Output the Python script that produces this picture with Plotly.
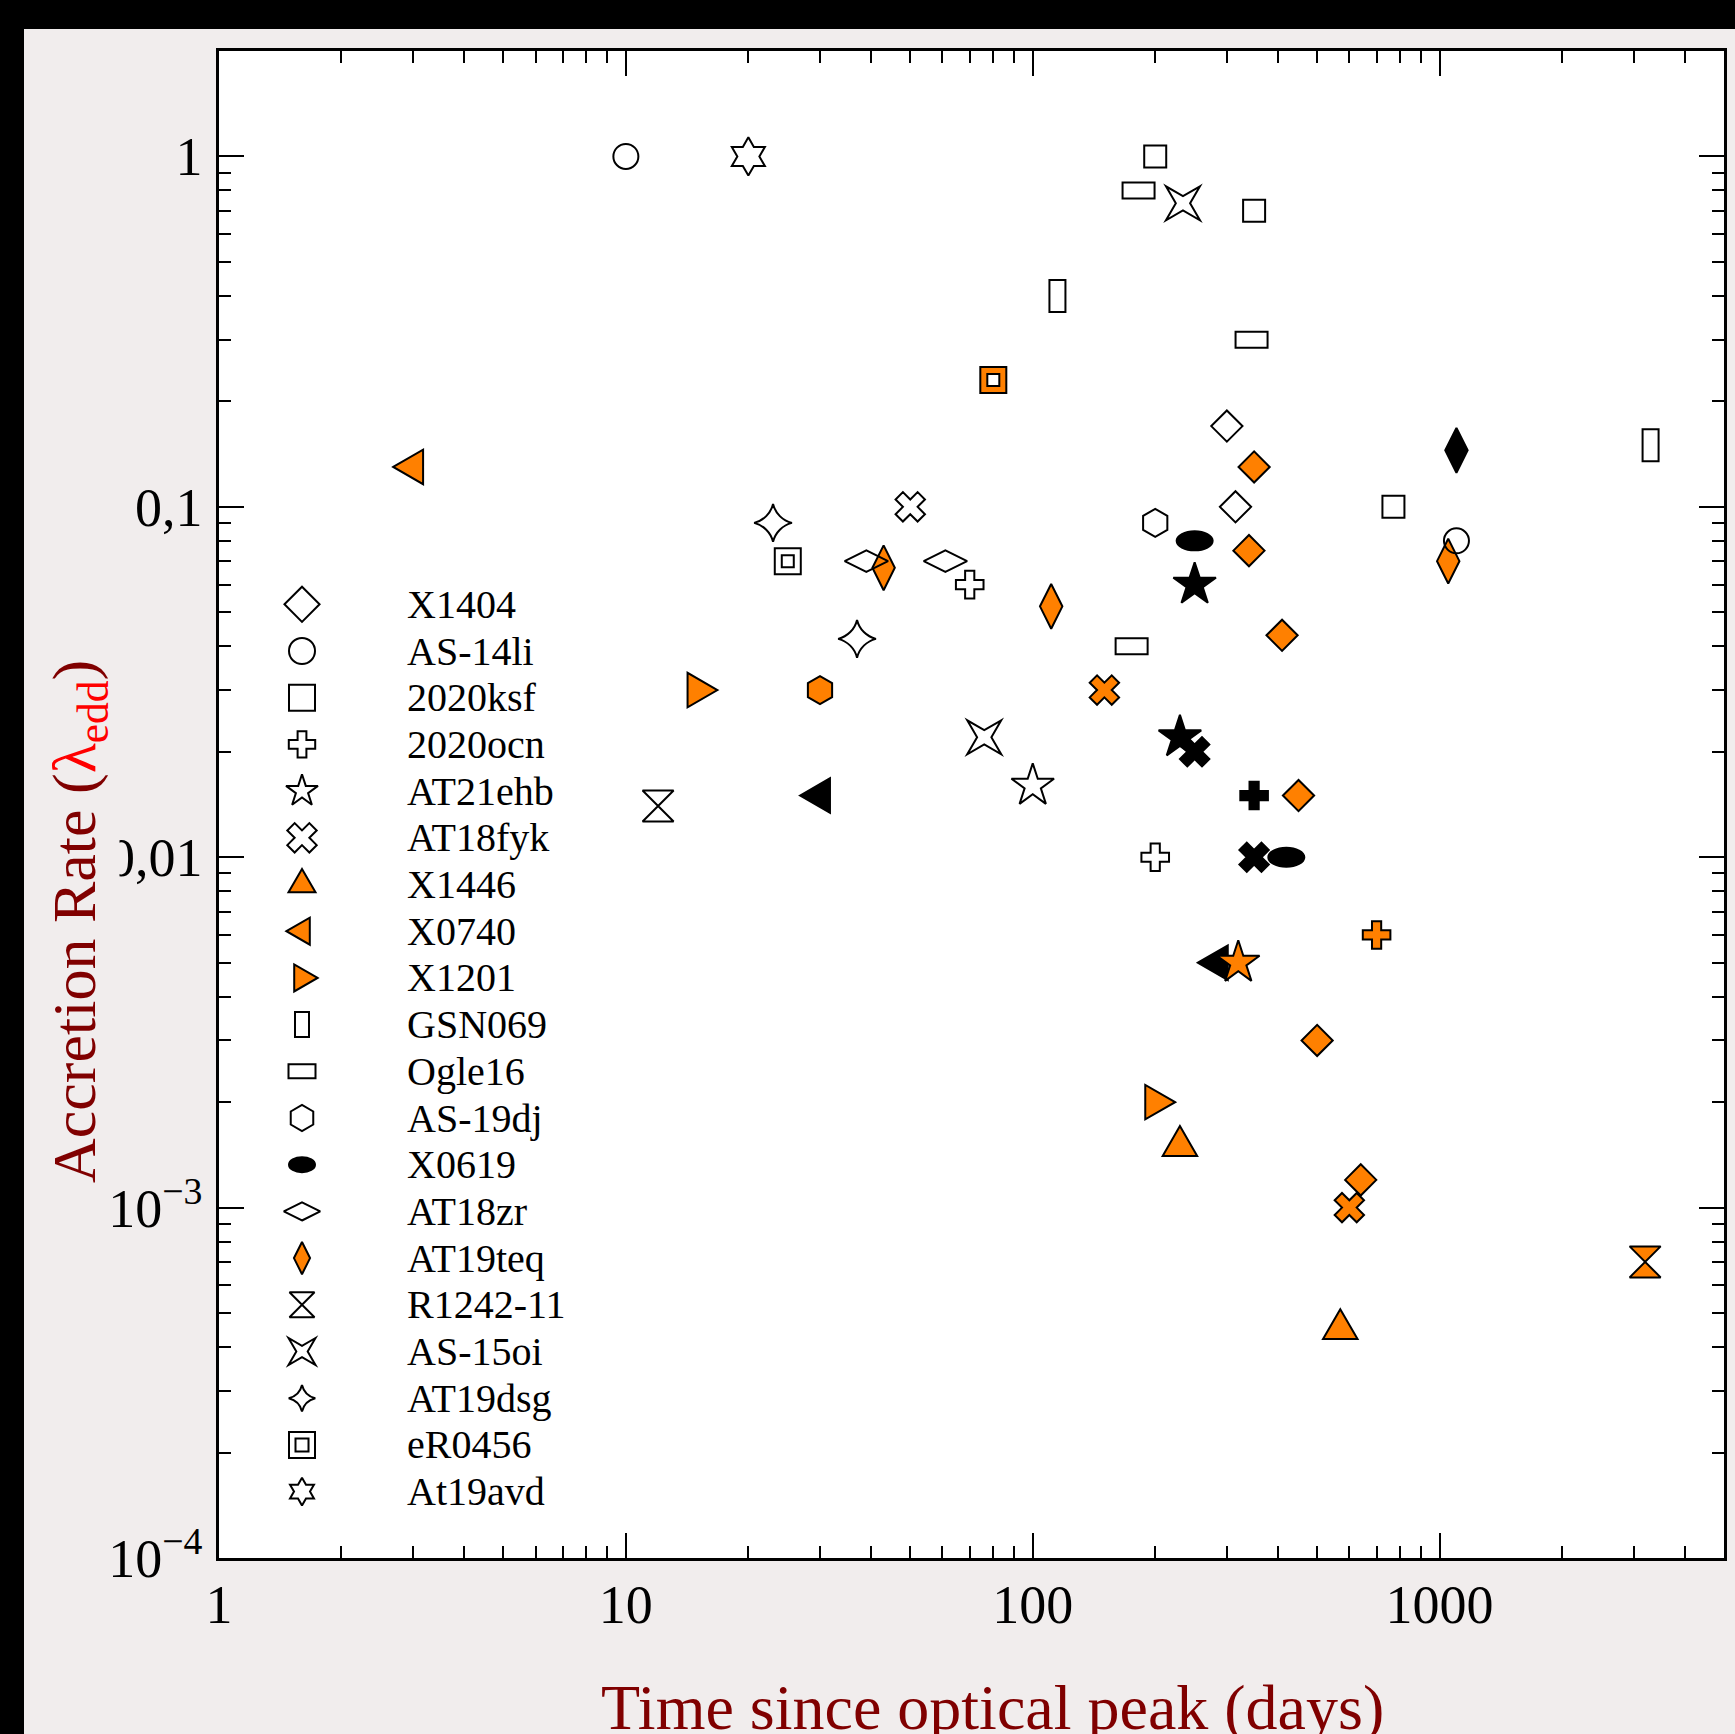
import math
import plotly.graph_objects as go

# ------------------------------------------------------------------ data
# time since optical peak (days), Eddington ratio, marker fill class
# fill class: "w" = open, "o" = orange, "k" = black
X1404_days = [300, 315, 350, 340, 410, 450, 500, 640]
X1404_rate = [0.17, 0.10, 0.13, 0.075, 0.043, 0.015, 0.003, 0.0012]
X1404_fill = ["w", "w", "o", "o", "o", "o", "o", "o"]

AS14li_days = [10, 1100]
AS14li_rate = [1.0, 0.08]
AS14li_fill = ["w", "w"]

ksf_days = [200, 350, 770]
ksf_rate = [1.0, 0.70, 0.10]
ksf_fill = ["w", "w", "w"]

ocn_days = [70, 200, 350, 700]
ocn_rate = [0.06, 0.01, 0.015, 0.006]
ocn_fill = ["w", "w", "k", "o"]

ehb_days = [100, 250, 230, 320]
ehb_rate = [0.016, 0.06, 0.022, 0.005]
ehb_fill = ["w", "k", "k", "o"]

fyk_days = [50, 150, 250, 350, 600]
fyk_rate = [0.10, 0.03, 0.02, 0.01, 0.001]
fyk_fill = ["w", "o", "k", "k", "o"]

X1446_days = [230, 570]
X1446_rate = [0.0015, 0.00045]
X1446_fill = ["o", "o"]

X0740_days = [3, 30, 285]
X0740_rate = [0.13, 0.015, 0.005]
X0740_fill = ["o", "k", "k"]

X1201_days = [15, 200]
X1201_rate = [0.03, 0.002]
X1201_fill = ["o", "o"]

GSN069_days = [115, 3300]
GSN069_rate = [0.40, 0.15]
GSN069_fill = ["w", "w"]

Ogle16_days = [182, 345, 175]
Ogle16_rate = [0.80, 0.30, 0.04]
Ogle16_fill = ["w", "w", "w"]

AS19dj_days = [200, 30]
AS19dj_rate = [0.09, 0.03]
AS19dj_fill = ["w", "o"]

X0619_days = [250, 420]
X0619_rate = [0.08, 0.01]
X0619_fill = ["k", "k"]

zr_days = [39, 61]
zr_rate = [0.07, 0.07]
zr_fill = ["w", "w"]

teq_days = [43, 111, 1100, 1050]
teq_rate = [0.067, 0.052, 0.145, 0.07]
teq_fill = ["o", "o", "k", "o"]

R1242_days = [12, 3200]
R1242_rate = [0.014, 0.0007]
R1242_fill = ["w", "o"]

AS15oi_days = [234, 76]
AS15oi_rate = [0.735, 0.022]
AS15oi_fill = ["w", "w"]

dsg_days = [23, 37]
dsg_rate = [0.09, 0.042]
dsg_fill = ["w", "w"]

eR0456_days = [80, 25]
eR0456_rate = [0.23, 0.07]
eR0456_fill = ["o", "w"]

avd_days = [20]
avd_rate = [1.0]
avd_fill = ["w"]

SOURCE_NAMES = ["X1404", "AS-14li", "2020ksf", "2020ocn", "AT21ehb", "AT18fyk",
                "X1446", "X0740", "X1201", "GSN069", "Ogle16", "AS-19dj",
                "X0619", "AT18zr", "AT19teq", "R1242-11", "AS-15oi", "AT19dsg",
                "eR0456", "At19avd"]
LEGEND_FILL = ["w", "w", "w", "w", "w", "w", "o", "o", "o", "w", "w", "w",
               "k", "w", "o", "w", "w", "w", "w", "w"]

X_TICK_VALS = [1, 10, 100, 1000]
X_TICK_TEXT = ["1", "10", "100", "1000"]
Y_TICK_VALS = [1, 0.1, 0.01, 0.001, 0.0001]
Y_TICK_TEXT = ["1", "0,1", "0,01", "10<sup>\u22123</sup>", "10<sup>\u22124</sup>"]

X_TITLE = "Time since optical peak (days)"
Y_TITLE = "Accretion Rate (<span style='color:#ff0000'>\u03bb<sub>edd</sub></span>)"

SERIES = [
    (X1404_days, X1404_rate, X1404_fill),
    (AS14li_days, AS14li_rate, AS14li_fill),
    (ksf_days, ksf_rate, ksf_fill),
    (ocn_days, ocn_rate, ocn_fill),
    (ehb_days, ehb_rate, ehb_fill),
    (fyk_days, fyk_rate, fyk_fill),
    (X1446_days, X1446_rate, X1446_fill),
    (X0740_days, X0740_rate, X0740_fill),
    (X1201_days, X1201_rate, X1201_fill),
    (GSN069_days, GSN069_rate, GSN069_fill),
    (Ogle16_days, Ogle16_rate, Ogle16_fill),
    (AS19dj_days, AS19dj_rate, AS19dj_fill),
    (X0619_days, X0619_rate, X0619_fill),
    (zr_days, zr_rate, zr_fill),
    (teq_days, teq_rate, teq_fill),
    (R1242_days, R1242_rate, R1242_fill),
    (AS15oi_days, AS15oi_rate, AS15oi_fill),
    (dsg_days, dsg_rate, dsg_fill),
    (eR0456_days, eR0456_rate, eR0456_fill),
    (avd_days, avd_rate, avd_fill),
]

# ------------------------------------------------------------------ styles
# glyph kind, data size, legend size
GLYPH = {
    "X1404": ("diamond", 24, 27),
    "AS-14li": ("circle", 25, 26),
    "2020ksf": ("square", 22, 26),
    "2020ocn": ("cross", 23, 22),
    "AT21ehb": ("star", 32, 24),
    "AT18fyk": ("x", 26, 26),
    "X1446": ("tri-up", 34.5, 27),
    "X0740": ("tri-left", 34.5, 27),
    "X1201": ("tri-right", 34.5, 27),
    "GSN069": ("rect", (16, 32), (14, 25)),
    "Ogle16": ("rect", (32, 16), (27, 14)),
    "AS-19dj": ("hexagon", 28, 26),
    "X0619": ("ellipse", (36, 19), (26, 15)),
    "AT18zr": ("diamond-wide", 31, 26),
    "AT19teq": ("diamond-tall", 32, 23),
    "R1242-11": ("hourglass", 31, 25),
    "AS-15oi": ("star4x", 34, 27),
    "AT19dsg": ("star-diamond", 27, 19),
    "eR0456": ("dsquare", 26, 26),
    "At19avd": ("hexagram", 29, 21),
}
FILL = {"w": "rgba(0,0,0,0)", "o": "#ff8000", "k": "#000000"}
SERIF = "Liberation Serif, Times New Roman, serif"
LW = 2

W, H = 1735, 1734
ML, MR, MT, MB = 219, 11, 51, 176
PW = W - ML - MR
PH = H - MT - MB


def px_x(px):
    return (px - ML) / PW


def px_y(py):
    return (H - MB - py) / PH


def poly(pts):
    return "M" + " L".join(f"{x:.2f},{y:.2f}" for x, y in pts) + " Z"


def glyph_path(kind, size):
    """SVG path in pixels (y up) centred on the anchor."""
    if kind.startswith("tri"):
        h = size * math.sqrt(3) / 2
        a, b, c = 2 * h / 3, h / 3, size / 2
        if kind == "tri-up":
            return poly([(0, a), (c, -b), (-c, -b)])
        if kind == "tri-left":
            return poly([(-a, 0), (b, c), (b, -c)])
        return poly([(a, 0), (-b, c), (-b, -c)])
    if kind == "rect":
        w, h = size[0] / 2, size[1] / 2
        return poly([(-w, -h), (w, -h), (w, h), (-w, h)])
    if kind == "ellipse":
        rx, ry = size[0] / 2, size[1] / 2
        k = 0.5523
        return (f"M{rx:.2f},0 C{rx:.2f},{k*ry:.2f} {k*rx:.2f},{ry:.2f} 0,{ry:.2f} "
                f"C{-k*rx:.2f},{ry:.2f} {-rx:.2f},{k*ry:.2f} {-rx:.2f},0 "
                f"C{-rx:.2f},{-k*ry:.2f} {-k*rx:.2f},{-ry:.2f} 0,{-ry:.2f} "
                f"C{k*rx:.2f},{-ry:.2f} {rx:.2f},{-k*ry:.2f} {rx:.2f},0 Z")
    if kind == "star4x":
        a = size / 2
        ri = 0.42 * a
        return poly([(a, a), (0, ri), (-a, a), (-ri, 0), (-a, -a), (0, -ri), (a, -a), (ri, 0)])
    raise ValueError(kind)


def custom_shape(kind, size, fill, xref, yref, xa, ya, layer):
    return dict(type="path", path=glyph_path(kind, size),
                xref=xref, yref=yref, xsizemode="pixel", ysizemode="pixel",
                xanchor=xa, yanchor=ya, layer=layer,
                line=dict(color="black", width=LW), fillcolor=FILL[fill])


CUSTOM = ("tri-up", "tri-left", "tri-right", "rect", "ellipse", "star4x")

fig = go.Figure()
shapes = []

# page frame (black bars top / left)
shapes.append(dict(type="rect", xref="paper", yref="paper", layer="below",
                   x0=px_x(0), x1=px_x(24), y0=px_y(H), y1=px_y(0),
                   fillcolor="black", line=dict(width=0)))
shapes.append(dict(type="rect", xref="paper", yref="paper", layer="below",
                   x0=px_x(0), x1=px_x(W), y0=px_y(29), y1=px_y(0),
                   fillcolor="black", line=dict(width=0)))

# ------------------------------------------------------------------ data marks
for cls in ["k", "o", "w"]:
    for name, (xs, ys, fs) in zip(SOURCE_NAMES, SERIES):
        kind, dsize, _ = GLYPH[name]
        px = [x for x, f in zip(xs, fs) if f == cls]
        py = [y for y, f in zip(ys, fs) if f == cls]
        if not px:
            continue
        if kind in CUSTOM:
            fig.add_trace(go.Scatter(
                x=px, y=py, mode="markers", name=name, showlegend=False,
                marker=dict(size=24, opacity=0),
                hovertemplate=name + ": %{x} d, %{y}<extra></extra>"))
            for x, y in zip(px, py):
                shapes.append(custom_shape(kind, dsize, cls, "x", "y", x, y, "below"))
            continue
        sym = "square" if kind == "dsquare" else kind
        fig.add_trace(go.Scatter(
            x=px, y=py, mode="markers", name=name, showlegend=False,
            marker=dict(symbol=sym, size=dsize, color=FILL[cls],
                        line=dict(color="black", width=LW)),
            hovertemplate=name + ": %{x} d, %{y}<extra></extra>"))
        if kind == "dsquare":
            fig.add_trace(go.Scatter(
                x=px, y=py, mode="markers", name=name, showlegend=False,
                hoverinfo="skip",
                marker=dict(symbol="square", size=12, color="white",
                            line=dict(color="black", width=LW))))

# ------------------------------------------------------------------ legend (manual)
LEG_SYM_X, LEG_TXT_X, LEG_Y0, LEG_DY = 302, 405, 604.3, 46.7
annotations = []
for i, name in enumerate(SOURCE_NAMES):
    kind, _, lsize = GLYPH[name]
    cls = LEGEND_FILL[i]
    lx, ly = px_x(LEG_SYM_X), px_y(LEG_Y0 + i * LEG_DY)
    if kind in CUSTOM:
        shapes.append(custom_shape(kind, lsize, cls, "paper", "paper", lx, ly, "above"))
    else:
        sym = "square" if kind == "dsquare" else kind
        fig.add_trace(go.Scatter(
            x=[lx], y=[ly], xaxis="x2", yaxis="y2", mode="markers",
            showlegend=False, hoverinfo="skip",
            marker=dict(symbol=sym, size=lsize, color=FILL[cls],
                        line=dict(color="black", width=LW))))
        if kind == "dsquare":
            fig.add_trace(go.Scatter(
                x=[lx], y=[ly], xaxis="x2", yaxis="y2", mode="markers",
                showlegend=False, hoverinfo="skip",
                marker=dict(symbol="square", size=13, color="white",
                            line=dict(color="black", width=LW))))
    annotations.append(dict(
        xref="paper", yref="paper", x=px_x(LEG_TXT_X), y=ly,
        xanchor="left", yanchor="middle", showarrow=False, text=name,
        font=dict(family=SERIF, size=40, color="black")))

# axis titles
annotations.append(dict(
    xref="paper", yref="paper", x=px_x(993), y=px_y(1707),
    xanchor="center", yanchor="middle", showarrow=False, text=X_TITLE,
    font=dict(family=SERIF, size=64, color="#800000")))
annotations.append(dict(
    xref="paper", yref="paper", x=px_x(79), y=px_y(922),
    xanchor="center", yanchor="middle", showarrow=False, text=Y_TITLE,
    textangle=-90, bgcolor="#f1eded", borderpad=2,
    font=dict(family=SERIF, size=62, color="#800000")))

x_minor = [m * 10 ** e for e in range(0, 4) for m in range(2, 10) if m * 10 ** e < 5000]
y_minor = [m * 10.0 ** e for e in range(-4, 1) for m in range(2, 10) if m * 10.0 ** e < 2.01]

axis_common = dict(
    type="log", showline=True, linecolor="black", linewidth=2.5, mirror="allticks",
    ticks="inside", ticklen=25, tickwidth=1.6, tickcolor="black",
    showgrid=False, zeroline=False, tickmode="array",
    tickfont=dict(family=SERIF, size=54, color="black"),
)

fig.update_layout(
    width=W, height=H,
    margin=dict(l=ML, r=MR, t=MT, b=MB, pad=0, autoexpand=False),
    paper_bgcolor="#f1eded", plot_bgcolor="white",
    showlegend=False,
    xaxis=dict(range=[0, math.log10(5000)], tickvals=X_TICK_VALS, ticktext=X_TICK_TEXT,
               ticklabelstandoff=-3,
               minor=dict(tickmode="array", tickvals=x_minor, ticks="inside", ticklen=12,
                          tickwidth=1.6, tickcolor="black", showgrid=False),
               **axis_common),
    yaxis=dict(range=[-4, math.log10(2)], tickvals=Y_TICK_VALS, ticktext=Y_TICK_TEXT,
               ticklabelstandoff=3,
               minor=dict(tickmode="array", tickvals=y_minor, ticks="inside", ticklen=12,
                          tickwidth=1.6, tickcolor="black", showgrid=False),
               **axis_common),
    xaxis2=dict(overlaying="x", anchor="y2", range=[0, 1], visible=False, fixedrange=True),
    yaxis2=dict(overlaying="y", anchor="x2", range=[0, 1], visible=False, fixedrange=True),
    shapes=shapes,
    annotations=annotations,
    font=dict(family=SERIF),
)

fig.write_html("out.html")
